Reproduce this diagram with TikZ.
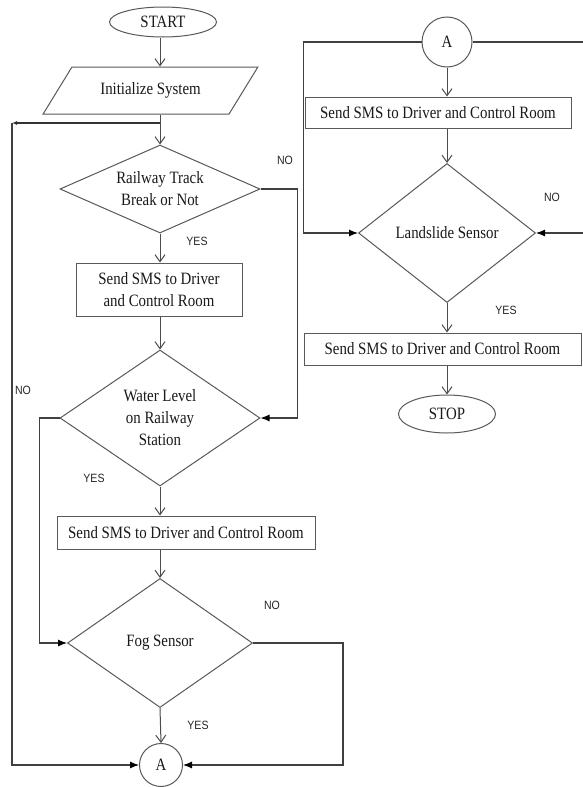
\documentclass[tikz,border=0pt]{standalone}
\usepackage{fontspec}
\setmainfont{Liberation Serif}[FakeStretch=0.86]
\newfontfamily\labfont{Liberation Sans}[FakeStretch=0.88]
\usetikzlibrary{shapes.geometric,arrows.meta,calc}
\begin{document}
\begin{tikzpicture}[x=1pt,y=-1pt,
  every node/.style={font=\fontsize{17.3}{22}\selectfont, text=black!90, align=center, inner sep=0pt},
  box/.style={draw=black!65, line width=1pt, rectangle},
  dia/.style={draw=black!65, line width=1pt, diamond},
  term/.style={draw=black!65, line width=1pt, ellipse},
  conn/.style={draw=black!65, line width=1pt, circle},
  io/.style={draw=black!65, line width=1pt, trapezium, trapezium left angle=40.5,
    trapezium right angle=139.5, trapezium stretches=true},
  flow/.style={draw=black!70, line width=1pt, -{Straight Barb[length=7pt,width=10pt]}},
  side/.style={draw=black!75, line width=1.1pt, -{Latex[length=9pt,width=7pt,fill=black,color=black]}},
  plain/.style={draw=black!80, line width=1.2pt},
  lab/.style={font=\labfont\fontsize{12}{14}\selectfont, text=black!85},
]
\clip (0,0) rectangle (583,787);
\fill[white] (0,0) rectangle (583,787);

% left column
\coordinate (axis) at (160,0);
\node[term, minimum width=107, minimum height=30] (start) at (163,22) {START};
\node[io, minimum width=215, minimum height=47] (init) at (150.5,90.5) {Initialize System};
\coordinate (j) at (160,123);
\coordinate (lc) at (12,123);
\node[dia, aspect=2.27, minimum width=200, minimum height=88] (d1) at (160,189) {Railway Track\\Break or Not};
\node[box, minimum width=166, minimum height=53] (r1) at (159,289.5) {Send SMS to Driver\\and Control Room};
\node[dia, aspect=1.47, minimum width=200, minimum height=136] (d2) at (160,418) {Water Level\\on Railway\\Station};
\node[box, minimum width=258, minimum height=33] (r2) at (186,532.5) {Send SMS to Driver and Control Room};
\node[dia, aspect=1.43, minimum width=185, minimum height=129] (d3) at (160,643) {Fog Sensor};
\node[conn, minimum size=43] (a1) at (161,765) {A};

% right column
\node[conn, minimum size=50] (a2) at (447,42) {A};
\node[box, minimum width=266, minimum height=31] (r3) at (438,112.5) {Send SMS to Driver and Control Room};
\node[dia, aspect=1.27, minimum width=177, minimum height=139] (d4) at (447,233) {Landslide Sensor};
\node[box, minimum width=277, minimum height=32] (r4) at (442.5,349) {Send SMS to Driver and Control Room};
\node[term, minimum width=97, minimum height=38] (stop) at (447,414) {STOP};

% labels
\node[lab] (no1) at (285,160) {NO};
\node[lab] (yes1) at (197,241) {YES};
\node[lab] (no2) at (23,390) {NO};
\node[lab] (yes2) at (94,478) {YES};
\node[lab] (no3) at (272,605) {NO};
\node[lab] (yes3) at (198,725) {YES};
\node[lab] (no4) at (552,197) {NO};
\node[lab] (yes4) at (506,310) {YES};

% connectors, left column
\draw[flow] (axis |- start.south) -- (axis |- init.north);
\draw[flow] (axis |- init.south) -- (d1.north);
\draw[plain, -{Latex[length=5pt,width=4pt]}] (j) -- (lc);
\draw[side] (lc) |- (a1.west);
\draw[flow] (d1.south) -- (d1.south |- r1.north);
\draw[flow] (axis |- r1.south) -- (d2.north);
\draw[side] (d1.east) -- ++(37,0) |- (d2.east);
\draw[flow] (d2.south) -- (d2.south |- r2.north);
\draw[flow] (axis |- r2.south) -- (d3.north);
\draw[side] (d2.west) -- ++(-20,0) |- (d3.west);
\draw[flow] (d3.south) -- (a1.north);
\draw[side] (d3.east) -- ++(90,0) |- (a1.east);

% connectors, right column
\draw[flow] (a2.south) -- (a2.south |- r3.north);
\draw[flow] (a2.south |- r3.south) -- (d4.north);
\draw[flow] (d4.south) -- (d4.south |- r4.north);
\draw[flow] (d4.south |- r4.south) -- (stop.north);
\draw[side] (a2.west) -- ++(-118,0) |- (d4.west);
\draw[side] (a2.east) -- ++(115,0) |- (d4.east);
\end{tikzpicture}
\end{document}
